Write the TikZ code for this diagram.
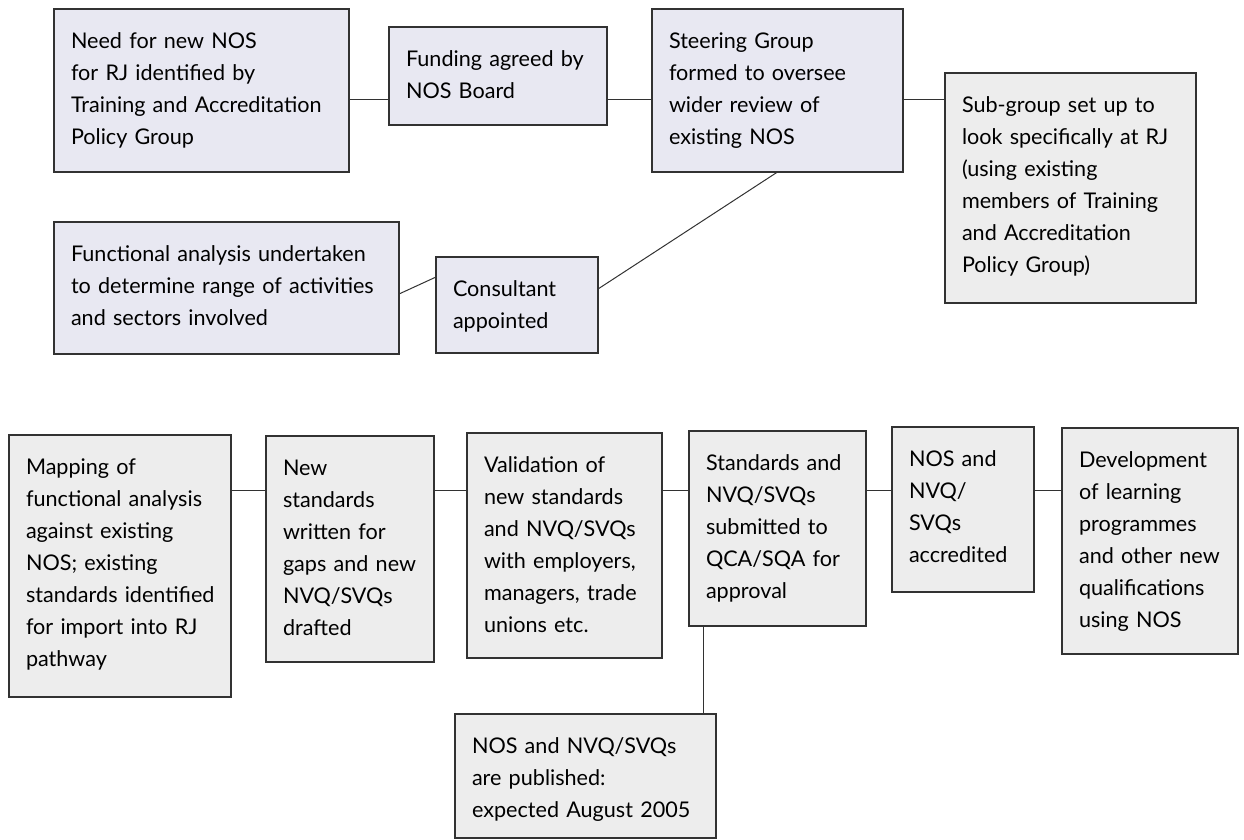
\documentclass[tikz,border=0pt]{standalone}
\usepackage{fontspec}
\setmainfont{Lato}
\definecolor{lav}{RGB}{232,232,242}
\definecolor{gry}{RGB}{237,237,237}
\definecolor{edgec}{RGB}{50,50,50}
\tikzset{
  boxA/.style={draw=edgec, line width=1.5pt, fill=lav, inner sep=0pt, outer sep=0pt, anchor=north west},
  boxB/.style={boxA, fill=gry},
  txt/.style={anchor=base west, inner sep=0pt, outer sep=0pt, align=left, text width=340pt,
    font=\fontsize{21.6pt}{32pt}\selectfont},
  link/.style={draw=edgec, line width=1pt},
}
\newcommand\flowbox[7]{%
  \node[#2, minimum width={#5-#3}, minimum height={#6-#4}] (#1) at (#3,#4) {};
  \node[txt] (#1t) at ([shift={(17,39)}]#1.north west) {#7};}
\begin{document}
\begin{tikzpicture}[x=1pt,y=-1pt]
\useasboundingbox (0,0) rectangle (1244,839);
% top section
\flowbox{b1}{boxA}{54}{9}{349}{172}{Need for new NOS\\for RJ identified by\\Training and Accreditation\\Policy Group}
\flowbox{b2}{boxA}{389}{27}{607}{125}{Funding agreed by\\NOS Board}
\flowbox{b3}{boxA}{652}{9}{903}{172}{Steering Group\\formed to oversee\\wider review of\\existing NOS}
\flowbox{b4}{boxB}{945}{73}{1196}{303}{Sub-group set up to\\look specifically at RJ\\(using existing\\members of Training\\and Accreditation\\Policy Group)}
\flowbox{b5}{boxA}{54}{222}{399}{354}{Functional analysis undertaken\\to determine range of activities\\and sectors involved}
\flowbox{b6}{boxA}{436}{257}{598}{353}{Consultant\\appointed}
% bottom section
\flowbox{c1}{boxB}{9}{435}{231}{697}{Mapping of\\functional analysis\\against existing\\NOS; existing\\standards identified\\for import into RJ\\pathway}
\flowbox{c2}{boxB}{266}{436}{434}{662}{New\\standards\\written for\\gaps and new\\NVQ/SVQs\\drafted}
\flowbox{c3}{boxB}{467}{433}{662}{658}{Validation of\\new standards\\and NVQ/SVQs\\with employers,\\managers, trade\\unions etc.}
\flowbox{c4}{boxB}{689}{431}{866}{626}{Standards and\\NVQ/SVQs\\submitted to\\QCA/SQA for\\approval}
\flowbox{c5}{boxB}{892}{427}{1034}{592}{NOS and\\NVQ/\\SVQs\\accredited}
\flowbox{c6}{boxB}{1062}{428}{1238}{654}{Development\\of learning\\programmes\\and other new\\qualifications\\using NOS}
\flowbox{c7}{boxB}{455}{714}{716}{838}{NOS and NVQ/SVQs\\are published:\\expected August 2005}
% connectors
\draw[link] (b1.east |- 0,99) -- (b2.west |- 0,99);
\draw[link] (b2.east |- 0,99) -- (b3.west |- 0,99);
\draw[link] (b3.east |- 0,99) -- (b4.west |- 0,99);
\draw[link] (b3.south) -- (b6.east |- 0,289);
\draw[link] (b5.east |- 0,294) -- (b6.west |- 0,277);
\draw[link] (c1.east |- 0,490) -- (c2.west |- 0,490);
\draw[link] (c2.east |- 0,490) -- (c3.west |- 0,490);
\draw[link] (c3.east |- 0,490) -- (c4.west |- 0,490);
\draw[link] (c4.east |- 0,490) -- (c5.west |- 0,490);
\draw[link] (c5.east |- 0,490) -- (c6.west |- 0,490);
\draw[link] (c4.south -| 703,0) -- (c7.north -| 703,0);
\end{tikzpicture}
\end{document}
